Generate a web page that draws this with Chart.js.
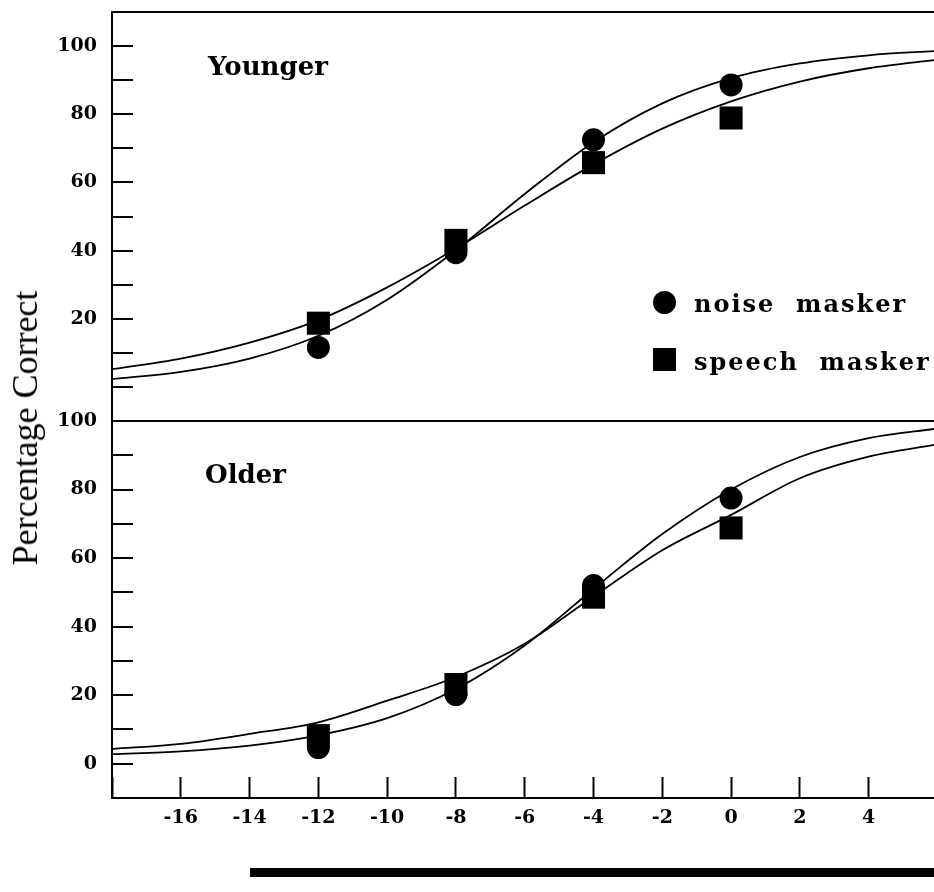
<!DOCTYPE html>
<html>
<head>
<meta charset="utf-8">
<script src="https://cdn.jsdelivr.net/npm/chart.js@4.4.0/dist/chart.umd.min.js"></script>
<style>
  html, body { margin: 0; padding: 0; background: #fff; overflow: hidden; }
  #wrap { position: relative; width: 934px; height: 892px; }
  canvas { position: absolute; left: 0; }
  .txt { position: absolute; color: #000; white-space: pre; line-height: 1; }
  .panel { font-family: "DejaVu Serif", serif; font-weight: bold; font-size: 26px; }
  .leg { font-family: "DejaVu Serif", serif; font-weight: bold; font-size: 24px; letter-spacing: 2px; }
  #ytitle { position: absolute; left: 25px; top: 428px; transform: translate(-50%, -50%) rotate(-90deg);
            font-family: "Liberation Serif", serif; font-size: 36px; white-space: nowrap; }
  .mk { position: absolute; width: 23px; height: 23px; background: #000; }
  .bar { position: absolute; background: #000; }
</style>
</head>
<body>
<div id="wrap">
  <canvas id="top" width="934" height="422" style="top:0px"></canvas>
  <canvas id="bottom" width="934" height="512" style="top:380px"></canvas>
  <div id="ytitle">Percentage Correct</div>
  <div class="txt panel" style="left:208px; top:53px;">Younger</div>
  <div class="txt panel" style="left:205px; top:461px;">Older</div>
  <div class="mk" style="left:653px; top:291px; border-radius:50%;"></div>
  <div class="txt leg" style="left:694px; top:292px;">noise  masker</div>
  <div class="mk" style="left:653px; top:348px;"></div>
  <div class="txt leg" style="left:694px; top:350px;">speech  masker</div>
  <div class="bar" style="left:250px; top:868px; width:684px; height:9px;"></div>
</div>
<script>
// signal-to-noise ratio (dB) for the fitted curves, read every 2 dB
const fitSnr = [-18, -16, -14, -12, -10, -8, -6, -4, -2, 0, 2, 4, 6];
const youngNoiseFit  = [2.3, 4.4, 8.3, 15.0, 25.6, 40.1, 56.6, 71.8, 83.2, 90.6, 94.9, 97.3, 98.6];
const youngSpeechFit = [5.2, 8.3, 13.0, 19.6, 29.2, 40.6, 53.2, 65.3, 75.8, 83.8, 89.6, 93.5, 96.0];
const oldNoiseFit    = [2.8, 3.6, 5.3, 8.3, 13.3, 21.8, 34.5, 51.0, 67.0, 80.0, 89.5, 95.0, 97.8];
const oldSpeechFit   = [4.3, 5.8, 8.7, 12.1, 18.4, 25.3, 35.0, 48.8, 62.3, 72.6, 83.3, 89.6, 93.2];

// measured points
const obsSnr = [-12, -8, -4, 0];
const youngNoise  = [11.6, 39.4, 72.5, 88.6];
const youngSpeech = [18.7, 43.0, 65.8, 78.9];
const oldNoise    = [4.7, 20.2, 52.0, 77.5];
const oldSpeech   = [8.2, 23.1, 48.6, 68.8];

const tickFont = { family: "DejaVu Serif", size: 19, weight: "bold" };

function pts(xs, ys) {
  return xs.map((x, i) => ({ x: x, y: ys[i] }));
}

function curve(ys) {
  return {
    data: pts(fitSnr, ys), showLine: true, pointRadius: 0,
    borderColor: "#000", borderWidth: 1.8, cubicInterpolationMode: "monotone", fill: false
  };
}

function marks(ys, style) {
  return {
    data: pts(obsSnr, ys), showLine: false,
    pointStyle: style, pointRadius: style === "rect" ? 16.3 : 11.5,
    backgroundColor: "#000", borderWidth: 0
  };
}

function noPad(s) {
  s.paddingTop = 0; s.paddingBottom = 0; s.paddingLeft = 0; s.paddingRight = 0;
}

function panel(id, noiseFit, speechFit, noise, speech, yMax, firstLabel, padTop, showX) {
  new Chart(document.getElementById(id), {
    type: "scatter",
    data: {
      datasets: [curve(noiseFit), curve(speechFit), marks(noise, "circle"), marks(speech, "rect")]
    },
    options: {
      responsive: false,
      animation: false,
      layout: { autoPadding: false, padding: { top: padTop, left: 0, right: 0, bottom: showX ? 0 : 1 } },
      plugins: { legend: { display: false }, tooltip: { enabled: false } },
      scales: {
        x: {
          type: "linear", display: showX, min: -18, max: 5.9,
          afterBuildTicks: s => { s.ticks = s.ticks.filter(t => Number.isInteger(t.value)); },
          afterFit: s => { s.height = showX ? 94 : 0; noPad(s); },
          ticks: {
            stepSize: 2, color: "#000", font: tickFont, padding: 30, maxRotation: 0, autoSkip: false,
            callback: v => v === -18 ? "" : String(v)
          },
          grid: { drawOnChartArea: false, tickLength: -21, tickColor: "#000", tickWidth: 2 },
          border: { color: "#000", width: 2 }
        },
        y: {
          type: "linear", position: "left", min: -10, max: yMax,
          afterFit: s => { s.width = 112; noPad(s); },
          ticks: {
            stepSize: 10, color: "#000", font: tickFont, padding: 36, autoSkip: false,
            callback: v => (v % 20 === 0 && v >= firstLabel && v <= 100) ? String(v) : ""
          },
          grid: {
            tickLength: -21, tickColor: "#000", tickWidth: 2,
            color: c => (c.tick && (c.tick.value === -10 || c.tick.value === yMax)) ? "#000" : "rgba(0,0,0,0)",
            lineWidth: 2
          },
          border: { color: "#000", width: 2 }
        }
      }
    }
  });
}

panel("top", youngNoiseFit, youngSpeechFit, youngNoise, youngSpeech, 110, 20, 12, false);
panel("bottom", oldNoiseFit, oldSpeechFit, oldNoise, oldSpeech, 100, 0, 41, true);
</script>
</body>
</html>
